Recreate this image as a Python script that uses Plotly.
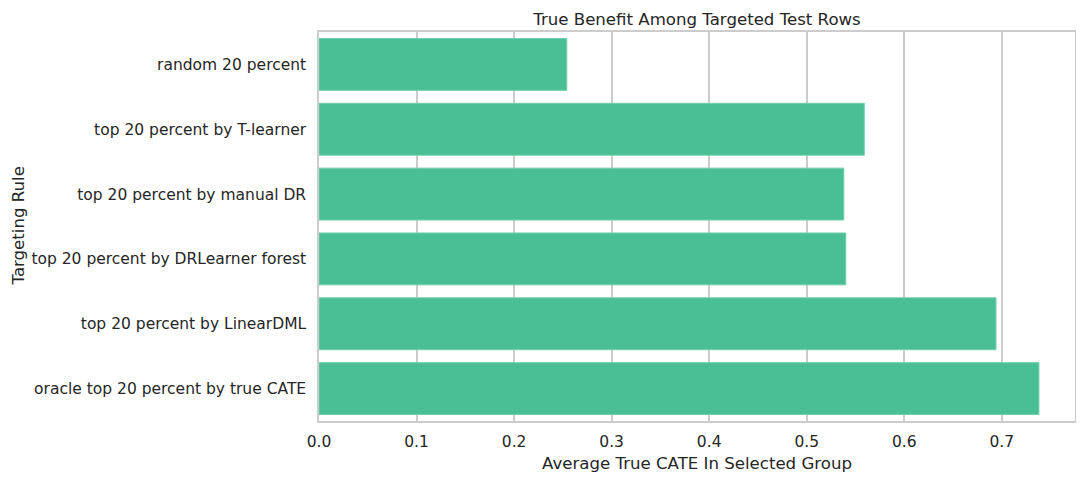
import plotly.graph_objects as go

# targeting rules (top to bottom) and their average true CATE
rules = [
    "random 20 percent",
    "top 20 percent by T-learner",
    "top 20 percent by manual DR",
    "top 20 percent by DRLearner forest",
    "top 20 percent by LinearDML",
    "oracle top 20 percent by true CATE",
]
avg_true_cate = [0.254, 0.559, 0.538, 0.540, 0.694, 0.738]

x_ticks = [0.0, 0.1, 0.2, 0.3, 0.4, 0.5, 0.6, 0.7]

text_col = "#262626"
grid_col = "#cccccc"

fig = go.Figure(go.Bar(
    x=avg_true_cate,
    y=rules,
    orientation="h",
    width=0.8,
    marker=dict(color="rgb(74,191,150)", line=dict(color="rgb(110,208,170)", width=1)),
))

# page body adds an 8px offset, so the figure is a bit smaller than the window
fig.update_layout(
    width=1076,
    height=476,
    margin=dict(l=311, r=9, t=24, b=63, autoexpand=False),
    paper_bgcolor="white",
    plot_bgcolor="white",
    font=dict(family="DejaVu Sans", color=text_col, size=15.5),
    showlegend=False,
    title=dict(text="True Benefit Among Targeted Test Rows", x=0.5, xref="paper",
               y=1, yref="paper", yanchor="bottom", pad=dict(b=7), automargin=False,
               font=dict(size=16.6, color=text_col)),
    annotations=[dict(
        text="Targeting Rule", textangle=-90, showarrow=False,
        xref="paper", yref="paper", x=0, y=0.5, xanchor="center", yanchor="middle",
        xshift=-301, font=dict(size=16.6, color=text_col),
    )],
)

fig.update_xaxes(
    range=[0, 0.775],
    tickvals=x_ticks,
    ticktext=[f"{v:.1f}" for v in x_ticks],
    showgrid=True, gridcolor=grid_col, gridwidth=1.5,
    showline=True, linecolor=grid_col, linewidth=1.5, mirror=True,
    zeroline=False, ticks="", ticklabelstandoff=6, automargin=False,
    title=dict(text="Average True CATE In Selected Group", font=dict(size=16.6), standoff=7),
)

fig.update_yaxes(
    categoryorder="array", categoryarray=rules,
    range=[5.5, -0.5],
    showgrid=False,
    showline=True, linecolor=grid_col, linewidth=1.5, mirror=True,
    ticks="", ticklabelstandoff=8, automargin=False,
)

fig.write_html("out.html")
